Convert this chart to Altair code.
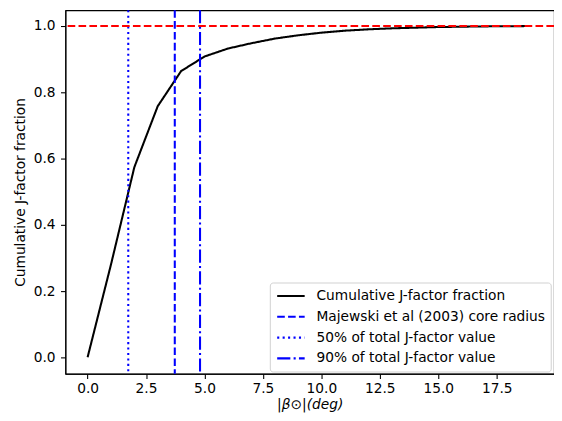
import altair as alt
import pandas as pd

# ---- data ----
beta_deg = list(range(0, 20))
cum_fraction = [0.0, 0.28, 0.574, 0.758, 0.864, 0.908, 0.932, 0.948, 0.962, 0.972,
                0.980, 0.986, 0.990, 0.993, 0.995, 0.997, 0.998, 0.999, 0.9995, 1.0]

series_names = ["Cumulative J-factor fraction",
                "Majewski et al (2003) core radius",
                "50% of total J-factor value",
                "90% of total J-factor value"]
vline_series = series_names[1:]
vline_x = [3.73, 1.74, 4.81]
hline_y = [1.0]

series_colors = ["black", "blue", "blue", "blue"]
series_dashes = [[1, 0], [7.7, 3.3], [2.1, 3.4], [13.3, 3.3, 2.1, 3.3]]

x_ticks = [0, 2.5, 5, 7.5, 10, 12.5, 15, 17.5]
y_ticks = [0, 0.2, 0.4, 0.6, 0.8, 1.0]

curve_df = pd.DataFrame({"beta": beta_deg, "frac": cum_fraction,
                         "series": series_names[0]})
vline_df = pd.DataFrame({"beta": vline_x, "series": vline_series})
hline_df = pd.DataFrame({"frac": hline_y})

FONT = "DejaVu Sans"
FS = 13.9
LW = 2.08

x_scale = alt.Scale(domain=[-0.95, 19.95], nice=False, zero=False)
y_scale = alt.Scale(domain=[-0.0493, 1.0478], nice=False, zero=False)

color_scale = alt.Scale(domain=series_names, range=series_colors)
dash_scale = alt.Scale(domain=series_names, range=series_dashes)

legend = alt.Legend(
    orient="none", legendX=206.7, legendY=275.3, title=None,
    symbolType="M-0.9,0L3.1,0", symbolSize=193, symbolStrokeWidth=LW,
    labelFontSize=FS, labelFont=FONT, labelColor="black", labelLimit=400,
    labelOffset=25.5, padding=5.7, rowPadding=6,
    fillColor="white", strokeColor="#d0d0d0", cornerRadius=3,
)

x_axis = alt.Axis(values=x_ticks, format=".1f", title="|β⊙|(deg)",
                  titleFontStyle="italic", labelPadding=3.5, titlePadding=2)
y_axis = alt.Axis(values=y_ticks, format=".1f", title="Cumulative J-factor fraction",
                  labelPadding=5.5, titlePadding=6)

curve = alt.Chart(curve_df).mark_line(strokeWidth=LW).encode(
    x=alt.X("beta:Q", scale=x_scale, axis=x_axis),
    y=alt.Y("frac:Q", scale=y_scale, axis=y_axis),
    color=alt.Color("series:N", scale=color_scale, legend=legend),
    strokeDash=alt.StrokeDash("series:N", scale=dash_scale, legend=legend),
)

vlines = alt.Chart(vline_df).mark_rule(strokeWidth=LW).encode(
    x=alt.X("beta:Q", scale=x_scale),
    color=alt.Color("series:N", scale=color_scale, legend=legend),
    strokeDash=alt.StrokeDash("series:N", scale=dash_scale, legend=legend),
)

hline = alt.Chart(hline_df).mark_rule(strokeWidth=LW, color="red",
                                      strokeDash=[7.7, 3.3]).encode(
    y=alt.Y("frac:Q", scale=y_scale),
)

chart = alt.layer(curve, vlines, hline).properties(
    width=494, height=367.5,
    autosize=alt.AutoSizeParams(type="none"),
    padding={"left": 58, "top": 0, "right": 0, "bottom": 37.5},
).configure_view(
    stroke="black", strokeWidth=1.1,
).configure_axis(
    grid=False, domainColor="black", domainWidth=1.1,
    tickColor="black", tickWidth=1.1, tickSize=4.9,
    labelFont=FONT, labelFontSize=FS, labelColor="black",
    titleFont=FONT, titleFontSize=FS, titleColor="black", titleFontWeight="normal",
).configure_legend(
    symbolFillColor="transparent",
)

chart.save("out.html", embed_options={"renderer": "svg", "actions": False})
